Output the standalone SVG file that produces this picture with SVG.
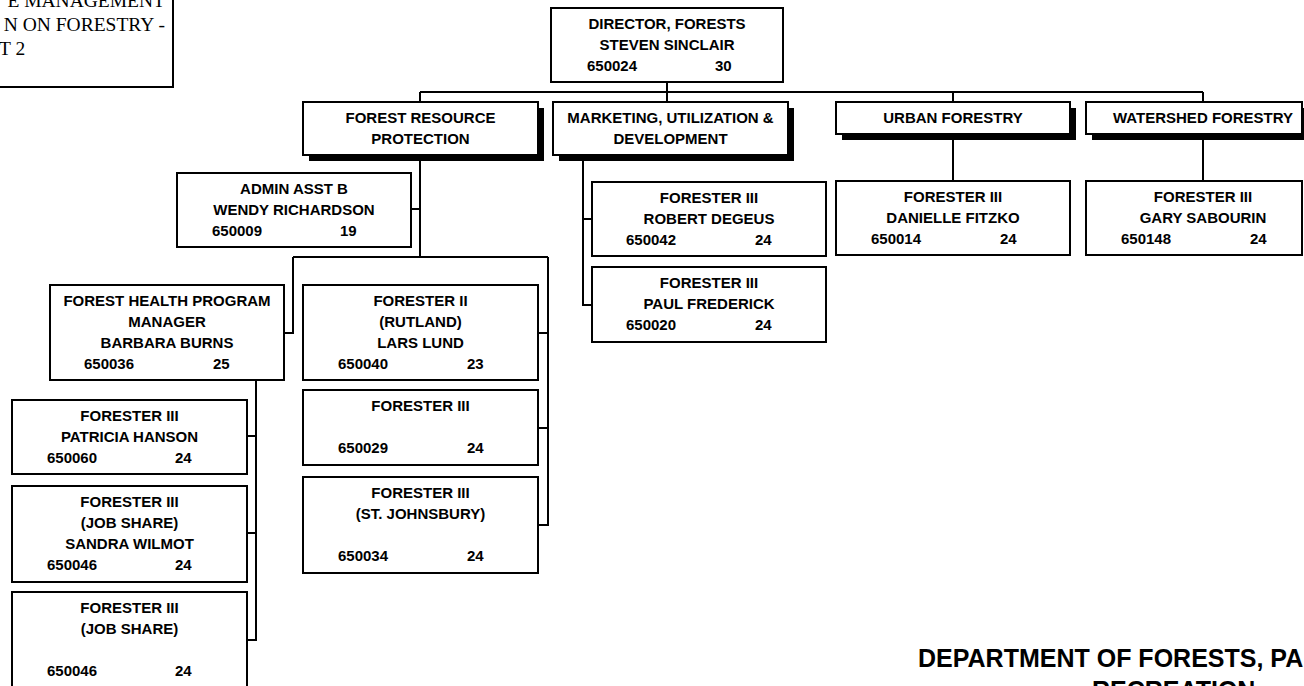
<svg xmlns="http://www.w3.org/2000/svg" width="1304" height="686" viewBox="0 0 1304 686">
<style>
.box{fill:#fff;stroke:#000;stroke-width:2}
.sh{fill:#000}
.t{font-family:"Liberation Sans",Arial,sans-serif;font-weight:bold;font-size:15px;fill:#000}
.c{text-anchor:middle}
.serif{font-family:"Liberation Serif","Times New Roman",serif;font-size:19.5px;fill:#000}
.title{font-family:"Liberation Sans",Arial,sans-serif;font-weight:bold;font-size:25px;fill:#000}
#connectors path{stroke:#000;stroke-width:2;fill:none}
</style>
<rect width="1304" height="686" fill="#fff"/>
<g id="connectors">
<path d="M667 82V102"/>
<path d="M420 92H1203"/>
<path d="M420 92V102"/>
<path d="M953 92V102"/>
<path d="M1203 92V102"/>
<path d="M953 134V181"/>
<path d="M1203 134V181"/>
<path d="M583 155V305H592"/>
<path d="M583 219H592"/>
<path d="M420 155V257"/>
<path d="M411 209H420"/>
<path d="M293 257H548"/>
<path d="M293 257V333H284"/>
<path d="M548 257V525H538"/>
<path d="M538 333H548"/>
<path d="M538 428H548"/>
<path d="M256 380V640H247"/>
<path d="M247 436H256"/>
<path d="M247 533H256"/>
</g>
<g id="note">
<rect class="box" x="-6" y="-6" width="179" height="93"/>
<text class="serif" x="165" y="7" text-anchor="end">E MANAGEMENT</text>
<text class="serif" x="165" y="31" text-anchor="end">N ON FORESTRY -</text>
<text class="serif" x="-1" y="55">T 2</text>
</g>
<g id="director">
<rect class="box" x="551" y="8" width="232" height="74"/>
<text class="t c" x="667" y="29">DIRECTOR, FORESTS</text>
<text class="t c" x="667" y="50">STEVEN SINCLAIR</text>
<text class="t" x="587" y="71">650024</text>
<text class="t" x="715" y="71">30</text>
</g>
<g id="forest-resource-protection">
<rect class="sh" x="309" y="108" width="235" height="53"/>
<rect class="box" x="303" y="102" width="235" height="53"/>
<text class="t c" x="420.5" y="123">FOREST RESOURCE</text>
<text class="t c" x="420.5" y="144">PROTECTION</text>
</g>
<g id="marketing">
<rect class="sh" x="559" y="108" width="235" height="53"/>
<rect class="box" x="553" y="102" width="235" height="53"/>
<text class="t c" x="670.5" y="123">MARKETING, UTILIZATION &amp;</text>
<text class="t c" x="670.5" y="144">DEVELOPMENT</text>
</g>
<g id="urban-forestry">
<rect class="sh" x="842" y="108" width="234" height="32"/>
<rect class="box" x="836" y="102" width="234" height="32"/>
<text class="t c" x="953" y="123">URBAN FORESTRY</text>
</g>
<g id="watershed-forestry">
<rect class="sh" x="1092" y="108" width="234" height="32"/>
<rect class="box" x="1086" y="102" width="216" height="32"/>
<text class="t c" x="1203" y="123">WATERSHED FORESTRY</text>
</g>
<g id="admin-asst">
<rect class="box" x="177" y="173" width="234" height="74"/>
<text class="t c" x="294" y="194">ADMIN ASST B</text>
<text class="t c" x="294" y="215">WENDY RICHARDSON</text>
<text class="t" x="212" y="236">650009</text>
<text class="t" x="340" y="236">19</text>
</g>
<g id="forest-health-manager">
<rect class="box" x="50" y="285" width="234" height="95"/>
<text class="t c" x="167" y="306">FOREST HEALTH PROGRAM</text>
<text class="t c" x="167" y="327">MANAGER</text>
<text class="t c" x="167" y="348">BARBARA BURNS</text>
<text class="t" x="84" y="369">650036</text>
<text class="t" x="213" y="369">25</text>
</g>
<g id="forester-rutland">
<rect class="box" x="303" y="285" width="235" height="95"/>
<text class="t c" x="420.5" y="306">FORESTER II</text>
<text class="t c" x="420.5" y="327">(RUTLAND)</text>
<text class="t c" x="420.5" y="348">LARS LUND</text>
<text class="t" x="338" y="369">650040</text>
<text class="t" x="467" y="369">23</text>
</g>
<g id="forester-650029">
<rect class="box" x="303" y="390" width="235" height="75"/>
<text class="t c" x="420.5" y="411">FORESTER III</text>
<text class="t" x="338" y="453">650029</text>
<text class="t" x="467" y="453">24</text>
</g>
<g id="forester-st-johnsbury">
<rect class="box" x="303" y="477" width="235" height="96"/>
<text class="t c" x="420.5" y="498">FORESTER III</text>
<text class="t c" x="420.5" y="519">(ST. JOHNSBURY)</text>
<text class="t" x="338" y="561">650034</text>
<text class="t" x="467" y="561">24</text>
</g>
<g id="forester-degeus">
<rect class="box" x="592" y="182" width="234" height="74"/>
<text class="t c" x="709" y="203">FORESTER III</text>
<text class="t c" x="709" y="224">ROBERT DEGEUS</text>
<text class="t" x="626" y="245">650042</text>
<text class="t" x="755" y="245">24</text>
</g>
<g id="forester-frederick">
<rect class="box" x="592" y="267" width="234" height="75"/>
<text class="t c" x="709" y="288">FORESTER III</text>
<text class="t c" x="709" y="309">PAUL FREDERICK</text>
<text class="t" x="626" y="330">650020</text>
<text class="t" x="755" y="330">24</text>
</g>
<g id="forester-fitzko">
<rect class="box" x="836" y="181" width="234" height="74"/>
<text class="t c" x="953" y="202">FORESTER III</text>
<text class="t c" x="953" y="223">DANIELLE FITZKO</text>
<text class="t" x="871" y="244">650014</text>
<text class="t" x="1000" y="244">24</text>
</g>
<g id="forester-sabourin">
<rect class="box" x="1086" y="181" width="216" height="74"/>
<text class="t c" x="1203" y="202">FORESTER III</text>
<text class="t c" x="1203" y="223">GARY SABOURIN</text>
<text class="t" x="1121" y="244">650148</text>
<text class="t" x="1250" y="244">24</text>
</g>
<g id="forester-hanson">
<rect class="box" x="12" y="400" width="235" height="74"/>
<text class="t c" x="129.5" y="421">FORESTER III</text>
<text class="t c" x="129.5" y="442">PATRICIA HANSON</text>
<text class="t" x="47" y="463">650060</text>
<text class="t" x="175" y="463">24</text>
</g>
<g id="forester-wilmot">
<rect class="box" x="12" y="486" width="235" height="96"/>
<text class="t c" x="129.5" y="507">FORESTER III</text>
<text class="t c" x="129.5" y="528">(JOB SHARE)</text>
<text class="t c" x="129.5" y="549">SANDRA WILMOT</text>
<text class="t" x="47" y="570">650046</text>
<text class="t" x="175" y="570">24</text>
</g>
<g id="forester-job-share">
<rect class="box" x="12" y="592" width="235" height="96"/>
<text class="t c" x="129.5" y="613">FORESTER III</text>
<text class="t c" x="129.5" y="634">(JOB SHARE)</text>
<text class="t" x="47" y="676">650046</text>
<text class="t" x="175" y="676">24</text>
</g>
<g id="title">
<text class="title" x="918" y="667">DEPARTMENT OF FORESTS, PA</text>
<text class="title" x="1092" y="699">RECREATION</text>
</g>
</svg>
